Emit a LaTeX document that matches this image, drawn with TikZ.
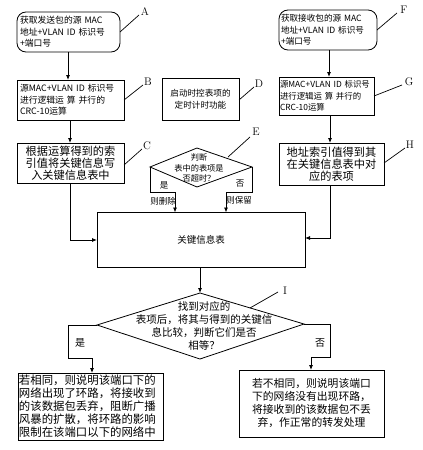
\documentclass[tikz,border=0pt]{standalone}
\usepackage{fontspec}
\newfontfamily\cjk{Noto Sans CJK SC}
\usetikzlibrary{arrows.meta}
\begin{document}
\begin{tikzpicture}[x=1pt,y=-1pt,
  box/.style={draw, line width=0.8pt, inner sep=2pt, outer sep=0pt},
  rbox/.style={box, rounded corners=9pt},
  fs/.style={font=\cjk\fontsize{#1}{11.6}\selectfont},
  lbl/.style={font=\rmfamily\fontsize{11}{11}\selectfont, inner sep=0pt},
  ldr/.style={line width=0.7pt},
  ln/.style={line width=0.8pt},
  arr/.style={line width=0.8pt, -{Latex[length=5pt,width=4pt]}},
  brl/.style={font=\cjk\fontsize{8.5}{9}\selectfont, inner sep=0pt}
]
\useasboundingbox (0,0) rectangle (423,450);
% left column
\node[rbox, minimum width=103, minimum height=40, text width=97, align=left, fs=8.8] (A) at (68.5,32)
  {获取发送包的源 MAC\\地址+VLAN ID 标识号\\+端口号};
\node[box, minimum width=107, minimum height=40, text width=101, align=left, fs=8.8] (B) at (70.5,100)
  {源MAC+VLAN ID 标识号\\进行逻辑运 算 并行的\\CRC-10运算};
\node[box, minimum width=107, minimum height=40, text width=103, align=center, fs=11.2, inner sep=0pt] (C) at (70.5,163)
  {\fontsize{11.2}{12.6}\selectfont 根据运算得到的索\\引值将关键信息写\\入关键信息表中};
% middle
\node[box, minimum width=77, minimum height=42, text width=71, align=center, fs=8.6] (D) at (200.5,99)
  {启动时控表项的\\定时计时功能};
\coordinate (El) at (150,167);
\coordinate (Et) at (197,148);
\coordinate (Er) at (252,167);
\coordinate (Eb) at (197,187);
\draw[ln] (El) -- (Et) -- (Er) -- (Eb) -- cycle;
\node[align=center, inner sep=0pt, font=\cjk\fontsize{8.2}{10.4}\selectfont] (Etext) at (199,168)
  {判断\\表中的表项是\\否超时？};
% right column
\node[rbox, minimum width=98, minimum height=40, text width=94, align=left, inner sep=1pt, fs=8.6] (F) at (328,30)
  {获取接收包的源 MAC\\地址+VLAN ID 标识号\\+端口号};
\node[box, minimum width=95, minimum height=38, text width=93, align=left, inner sep=1pt, font=\cjk\fontsize{8.4}{11.4}\selectfont] (G) at (326.5,96)
  {源MAC+VLAN ID 标识号\\进行逻辑运 算 并行的\\CRC-10运算};
\node[box, minimum width=105, minimum height=42, text width=101, align=center, fs=11.2, inner sep=0pt] (H) at (331.5,164)
  {\fontsize{11.2}{12.8}\selectfont 地址索引值得到其\\在关键信息表中对\\应的表项};
% key table
\node[box, minimum width=208, minimum height=55, fs=9.5] (K) at (201,240) {关键信息表};
% I diamond
\coordinate (Il) at (97,325);
\coordinate (It) at (200,293);
\coordinate (Ir) at (304,324);
\coordinate (Ib) at (200,359);
\draw[ln] (Il) -- (It) -- (Ir) -- (Ib) -- cycle;
\node[align=center, inner sep=0pt, font=\cjk\fontsize{10.5}{13}\selectfont] (Itext) at (204,326)
  {找到对应的\\表项后，将其与得到的关键信\\息比较，判断它们是否\\相等？};
% bottom boxes
\node[box, minimum width=145, minimum height=67, text width=143, align=left, inner sep=1pt, font=\cjk\fontsize{11.4}{13}\selectfont] (L) at (90.5,406.5)
  {若相同，则说明该端口下的\\网络出现了环路，将接收到\\的该数据包丢弃，阻断广播\\风暴的扩散，将环路的影响\\限制在该端口以下的网络中};
\node[box, minimum width=145, minimum height=67, text width=139, align=center, font=\cjk\fontsize{10.8}{13}\selectfont] (R) at (311.5,403.5)
  {若不相同，则说明该端口\\下的网络没有出现环路，\\将接收到的该数据包不丢\\弃，作正常的转发处理};
% arrows
\draw[arr] (A.south -| 68,0) -- (B.north -| 68,0);
\draw[arr] (B.south -| 70,0) -- (C.north -| 70,0);
\draw[arr] (F.south -| 329,0) -- (G.north -| 329,0);
\draw[arr] (G.south -| 330,0) -- (H.north -| 330,0);
\draw[arr] (C.south -| 70,0) |- (K.west |- 0,240);
\draw[arr] (H.south -| 330,0) |- (K.east |- 0,238);
\coordinate (E1) at (150,192);
\coordinate (E2) at (175,192);
\draw[arr] (El) -- (E1) -- (E2) -- (E2 |- K.north);
\coordinate (E3) at (252,192);
\coordinate (E4) at (226,192);
\draw[arr] (Er) -- (E3) -- (E4) -- (E4 |- K.north);
\node[brl] (yes1) at (164,185) {是};
\node[brl] (del) at (163,201) {则删除};
\node[brl] (no1) at (240,184) {否};
\node[brl] (keep) at (239,200) {则保留};
\draw[arr] (K.south -| It) -- (It);
\coordinate (I1) at (68,325);
\coordinate (I2) at (68,358);
\coordinate (I3) at (92,358);
\draw[arr] (Il) -- (I1) -- (I2) -- (I3) -- (I3 |- L.north);
\coordinate (I4) at (330,324);
\coordinate (I5) at (330,357);
\coordinate (I6) at (311,357);
\draw[arr] (Ir) -- (I4) -- (I5) -- (I6) -- (I6 |- R.north);
\node[font=\cjk\fontsize{10}{10}\selectfont, inner sep=0pt] (yes2) at (80,343) {是};
\node[font=\cjk\fontsize{10}{10}\selectfont, inner sep=0pt] (no2) at (320,343) {否};
% letter labels
\node[lbl] (LA) at (145,12) {A};
\draw[ldr] (A.east) -- (139,15);
\node[lbl] (LB) at (148,82) {B};
\draw[ldr] (B.east) -- (143,85);
\node[lbl] (LC) at (147,146) {C};
\draw[ldr] (124,165) -- (142,149);
\node[lbl] (LD) at (259,84) {D};
\draw[ldr] (239,100) -- (254,87);
\node[lbl] (LE) at (256,132) {E};
\draw[ldr] (228,157) -- (250,137);
\node[lbl] (LF) at (404,10) {F};
\draw[ldr] (F.east) -- (397,13);
\node[lbl] (LG) at (409,82) {G};
\draw[ldr] (G.east) -- (402,85);
\node[lbl] (LH) at (410,145) {H};
\draw[ldr] (384,163) -- (405,148);
\node[lbl] (LI) at (285,291) {I};
\draw[ldr] (250,308) -- (278,292);
\end{tikzpicture}
\end{document}
